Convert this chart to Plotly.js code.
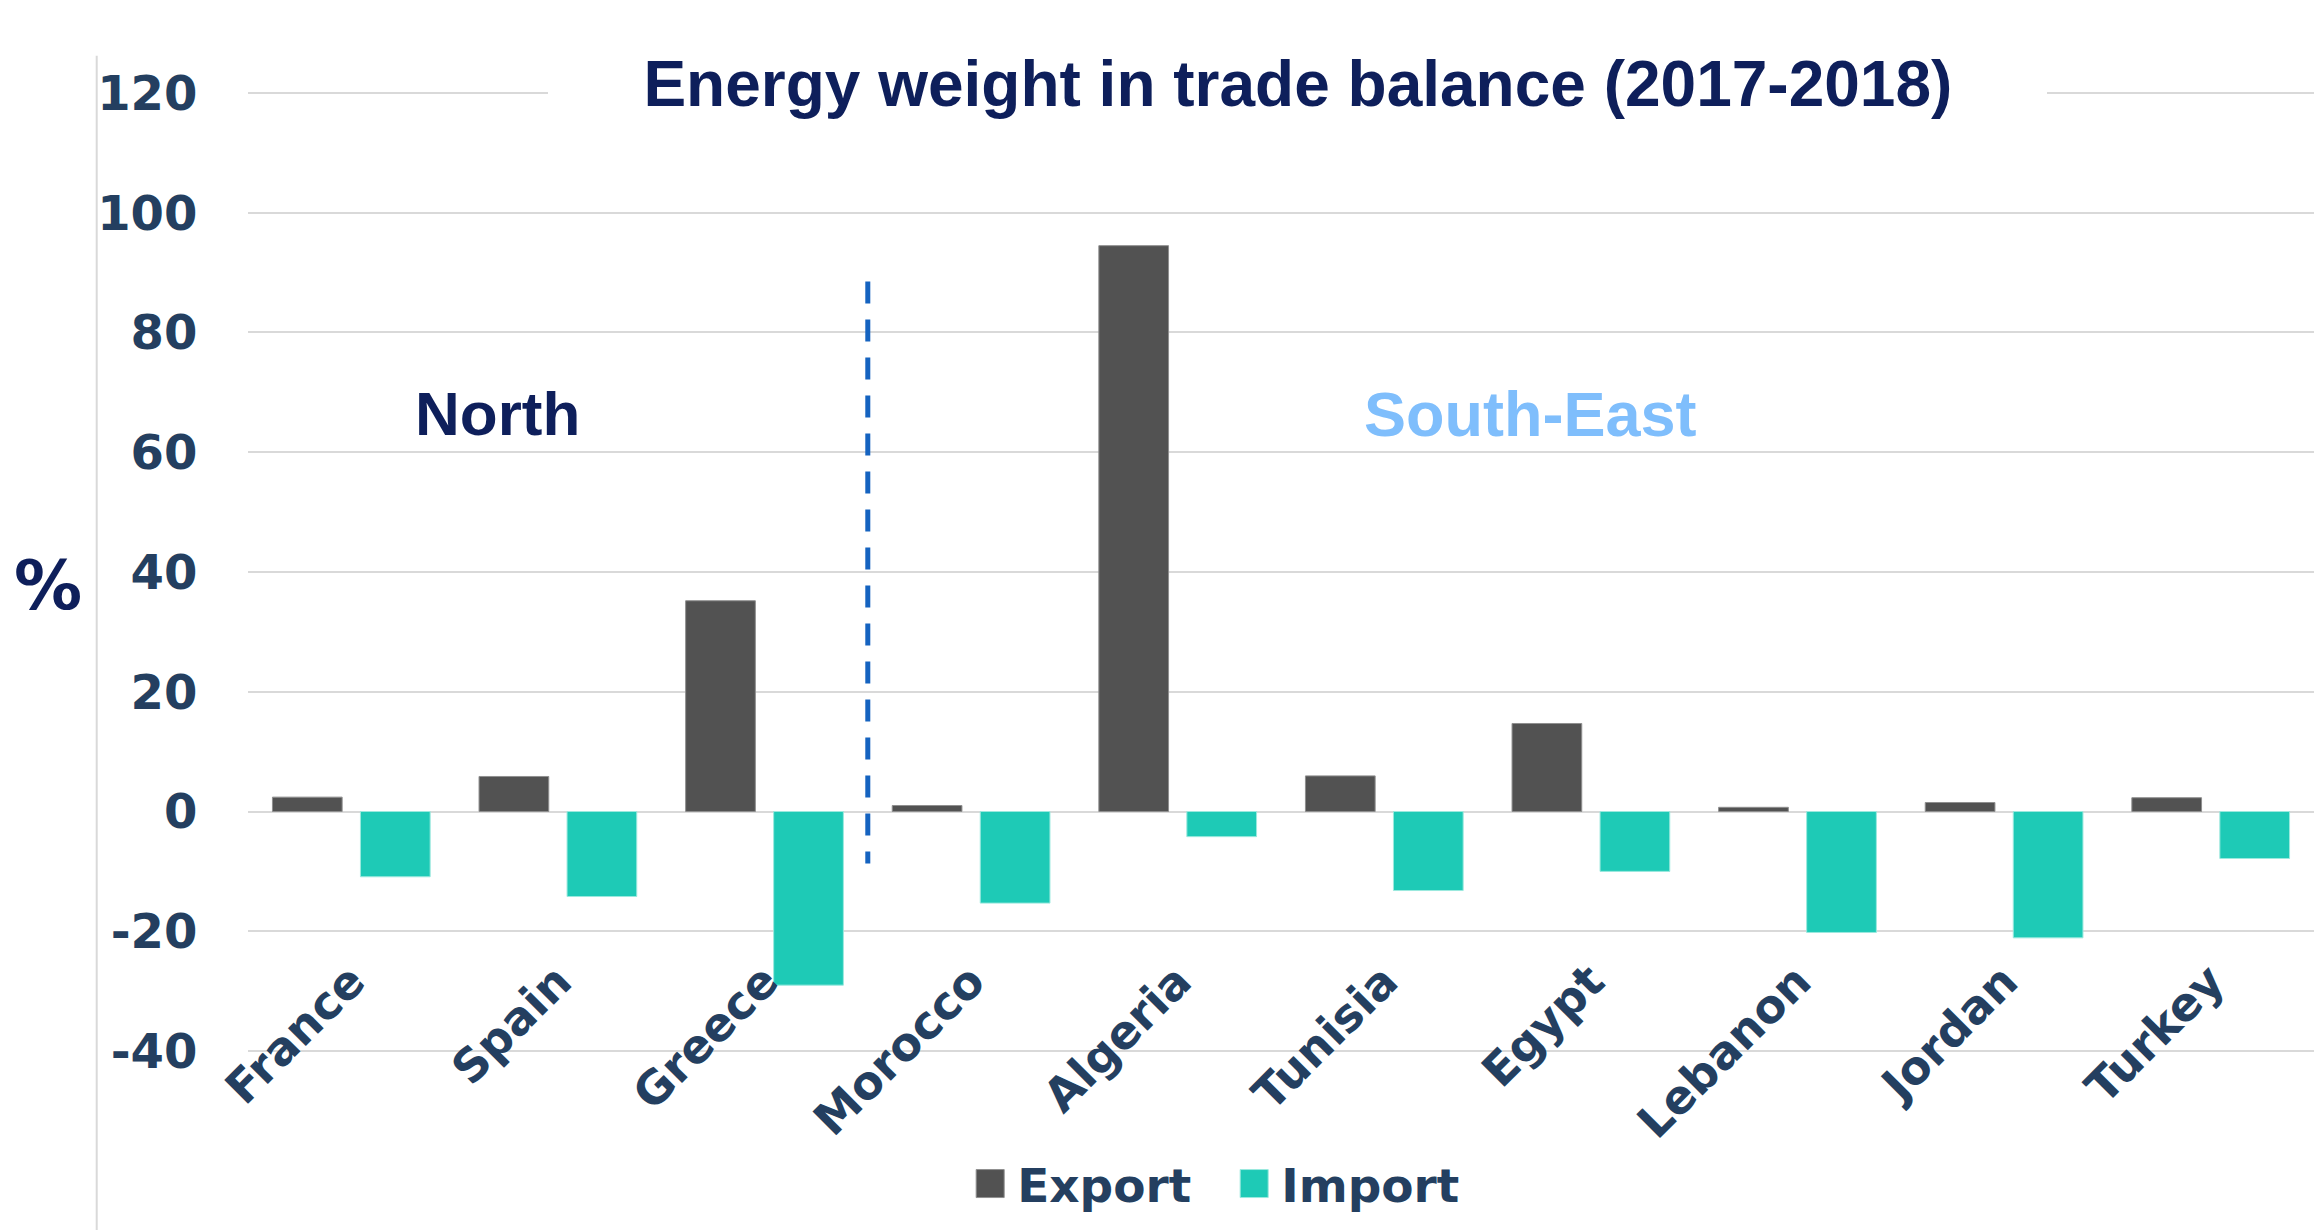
<!DOCTYPE html>
<html>
<head>
<meta charset="utf-8">
<script src="https://cdn.plot.ly/plotly-3.0.1.min.js"></script>
<style>html,body{margin:0;padding:0;background:#fff;}#chart{width:2321px;height:1230px;}</style>
</head>
<body>
<div id="chart"></div>
<script>
const countries = ["France", "Spain", "Greece", "Morocco", "Algeria", "Tunisia", "Egypt", "Lebanon", "Jordan", "Turkey"];
const exportValues = [2.4, 5.85, 35.2, 1.0, 94.5, 5.95, 14.7, 0.7, 1.5, 2.3];
const importValues = [-10.9, -14.2, -29.0, -15.3, -4.2, -13.2, -10.0, -20.2, -21.1, -7.85];
const seriesNames = ["Export", "Import"];
const yTicks = [-40, -20, 0, 20, 40, 60, 80, 100, 120];
const yTickLabels = ["-40", "-20", "0", "20", "40", "60", "80", "100", "120"];
const titleText = "Energy weight in trade balance (2017-2018)";
const regionLabels = ["North", "South-East"];

const tickColor = "#243F60";
const navy = "#0e1f5b";

// plot area: y=-41 .. 121, 5.9875 px per unit
const pxPerUnit = 5.9875;
const yMin = -41, yMax = 121;
const plotTop = 93.3 - (yMax - 120) * pxPerUnit;
const plotBottom = 1051 + (-40 - yMin) * pxPerUnit;
const plotH = plotBottom - plotTop;
const plotLeft = 248, plotW = 2066;
const py = (pix) => (plotBottom - pix) / plotH;
const px = (pix) => (pix - plotLeft) / plotW;

const traces = [
  {
    type: "bar", name: seriesNames[0], x: countries, y: exportValues,
    marker: {color: "#525252", line: {color: "#8f8f8f", width: 1}},
    hoverinfo: "x+y"
  },
  {
    type: "bar", name: seriesNames[1], x: countries, y: importValues,
    marker: {color: "#1ecab6", line: {color: "#9be9de", width: 1}},
    hoverinfo: "x+y"
  },
  {
    type: "scatter", mode: "markers", x: countries.map((c, i) => i), y: exportValues,
    xaxis: "x2", marker: {opacity: 0}, showlegend: false, hoverinfo: "skip"
  }
];

const layout = {
  width: 2321, height: 1230,
  margin: {l: plotLeft, r: 2321 - plotLeft - plotW, t: plotTop, b: 1230 - plotBottom},
  paper_bgcolor: "#ffffff", plot_bgcolor: "#ffffff",
  title: {
    text: titleText,
    x: 0.5592, xanchor: "center", xref: "container",
    y: 1 - 84 / 1230, yanchor: "middle", yref: "container",
    font: {family: "Liberation Sans, Arial, sans-serif", size: 64, color: navy, weight: 700}
  },
  barmode: "group", bargap: 0.148, bargroupgap: 0.208,
  xaxis: {
    type: "category", range: [-0.5, 9.5], showticklabels: false, showgrid: false,
    showline: false, zeroline: false, ticks: "", fixedrange: true
  },
  xaxis2: {
    overlaying: "x", anchor: "free", position: py(944), type: "linear", range: [-0.5, 9.5],
    tickmode: "array", tickvals: countries.map((c, i) => i), ticktext: countries,
    tickangle: -45, showgrid: false, showline: false, zeroline: false, ticks: "",
    tickfont: {family: "DejaVu Sans, Verdana, sans-serif", size: 46, color: tickColor, weight: 700}
  },
  yaxis: {
    range: [yMin, yMax], tickmode: "array", tickvals: yTicks, ticktext: yTickLabels,
    showgrid: true, gridcolor: "#d9d9d9", gridwidth: 2,
    zeroline: true, zerolinecolor: "#d9d9d9", zerolinewidth: 2,
    showline: false, ticks: "outside", ticklen: 40, tickcolor: "rgba(0,0,0,0)",
    tickfont: {family: "DejaVu Sans, Verdana, sans-serif", size: 48, color: tickColor, weight: 700}
  },
  showlegend: true,
  legend: {
    orientation: "h", xref: "container", yref: "container",
    x: 0.418, xanchor: "left", y: 1 - 1184 / 1230, yanchor: "middle",
    entrywidth: 219, entrywidthmode: "pixels",
    font: {family: "DejaVu Sans, Verdana, sans-serif", size: 47, color: tickColor, weight: 700},
    bgcolor: "rgba(0,0,0,0)"
  },
  shapes: [
    {type: "rect", xref: "paper", yref: "paper", x0: px(548), x1: px(2047),
     y0: py(100), y1: py(86), fillcolor: "#ffffff", line: {width: 0}, layer: "above"},
    {type: "line", xref: "x", yref: "y", x0: 2.5, x1: 2.5, y0: 88.5, y1: -8.7,
     line: {color: "#1563c0", width: 5, dash: "22px,16px"}},
    {type: "line", xref: "paper", yref: "paper", x0: px(96.7), x1: px(96.7), y0: py(1235), y1: py(56),
     line: {color: "#d9d9d9", width: 2}}
  ],
  annotations: [
    {text: regionLabels[0], xref: "paper", yref: "paper", x: px(497), y: py(414),
     xanchor: "center", yanchor: "middle", showarrow: false,
     font: {family: "Liberation Sans, Arial, sans-serif", size: 62, color: navy, weight: 700}},
    {text: regionLabels[1], xref: "paper", yref: "paper", x: px(1530), y: py(414),
     xanchor: "center", yanchor: "middle", showarrow: false,
     font: {family: "Liberation Sans, Arial, sans-serif", size: 63, color: "#7fbefc", weight: 700}},
    {text: "%", xref: "paper", yref: "paper", x: px(48), y: py(586),
     xanchor: "center", yanchor: "middle", showarrow: false,
     font: {family: "DejaVu Sans, Verdana, sans-serif", size: 68, color: navy, weight: 700}}
  ]
};

Plotly.newPlot("chart", traces, layout, {staticPlot: true}).then(() => {
  document.querySelectorAll(".legend .legendpoints path").forEach(p => {
    p.setAttribute("d", "M14,14H-14V-14H14Z");
  });
  document.querySelectorAll(".legend .legendtext").forEach(t => {
    t.setAttribute("x", "47");
  });
});
</script>
</body>
</html>
